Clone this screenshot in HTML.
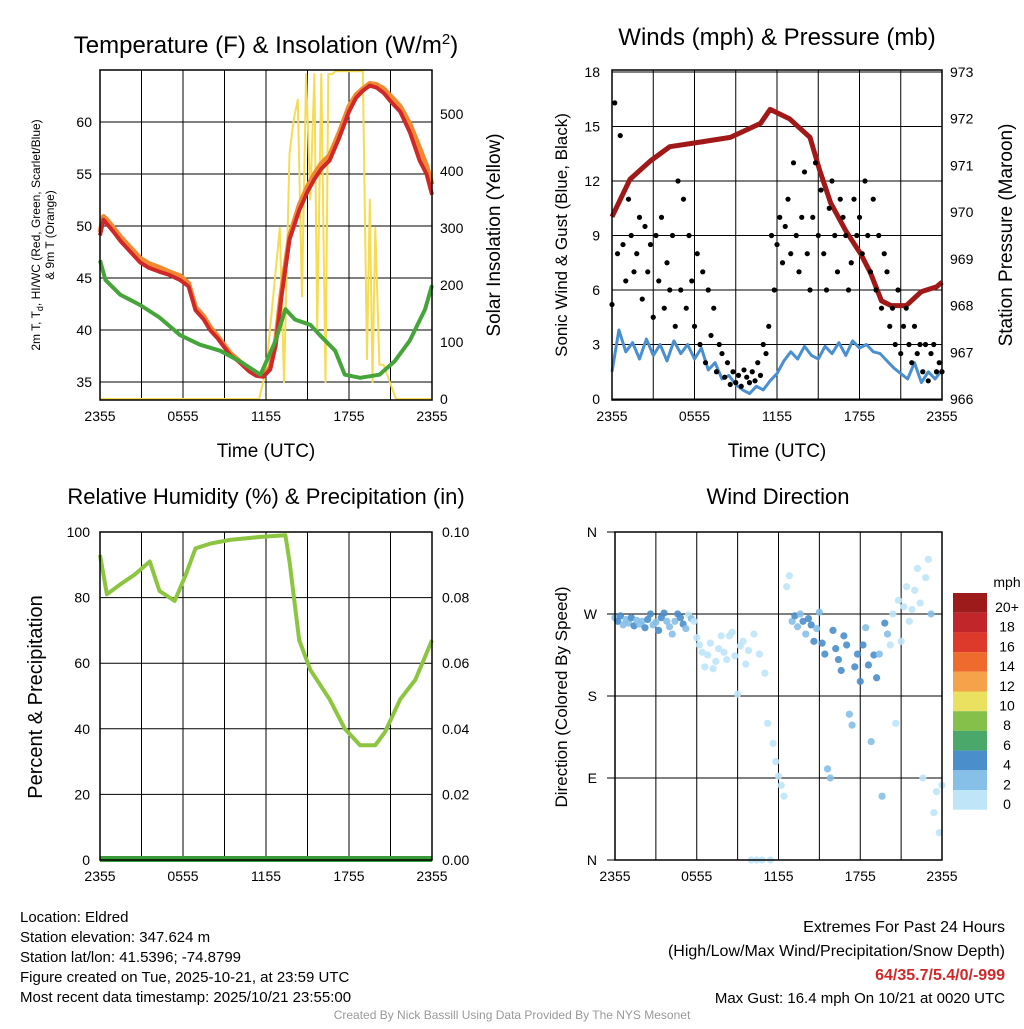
<!DOCTYPE html>
<html><head><meta charset="utf-8"><style>
body{margin:0;background:#fff;font-family:"Liberation Sans",sans-serif}
svg text{font-family:"Liberation Sans",sans-serif}
</style></head><body>
<svg id="s" width="1024" height="1024" xmlns="http://www.w3.org/2000/svg"></svg>
<script>
// ===== data =====
const xTickLabels=["2355","0555","1155","1755","2355"];
const tempHours=[0,0.25,0.5,1.0,1.45,2.0,2.9,3.5,4.3,5.0,5.8,6.4,6.9,7.5,7.95,8.5,9.4,10,10.8,11.3,11.8,12.3,12.7,13.1,13.7,14.4,15,15.5,16,16.6,17.3,18,18.5,19,19.5,20,20.5,21,21.7,22.4,23.1,23.6,24];
const tempRed=[49.1,50.6,50.2,49.4,48.6,47.8,46.5,46,45.6,45.3,44.8,44.2,41.9,41,40,39.2,37.6,37,36,35.6,35.5,36.2,38.5,43,48.7,51.5,53.3,54.5,55.5,56.3,58.5,61,62.3,63,63.5,63.3,62.8,62,61,59,56.3,55,53];
const tempOrange=[49.4,50.9,50.6,49.8,49,48.2,46.9,46.4,46,45.6,45.2,44.5,42.2,41.3,40.3,39.4,37.8,37.1,36.1,35.7,35.6,36.4,39,43.5,49,52,53.8,55,56,56.8,59,61.5,62.6,63.2,63.7,63.6,63.2,62.5,61.5,59.8,57.5,55.8,54];
const dewHours=[0,0.4,1.45,2.9,4.3,5.8,7.2,8.7,10.1,11.6,12.7,13.4,14.1,15.2,15.9,17,17.7,18.8,20.2,21.3,22.4,23.5,24];
const dewGreen=[46.7,44.8,43.4,42.4,41.2,39.5,38.6,38,37,35.7,39,42,41,40.5,39.5,38,35.7,35.4,35.7,37,39,42,44.3];
const solarHours=[0,11.5,12.0,12.6,13.0,13.3,13.7,14.0,14.3,14.6,14.9,15.2,15.5,15.7,16.0,16.3,16.5,16.8,17.0,17.3,17.6,18.0,18.5,19.0,19.3,19.5,19.7,19.9,20.2,20.5,20.8,21.4,24];
const solarW=[0,0,50,200,300,30,430,490,525,180,570,350,570,120,570,30,570,570,575,575,575,575,575,575,70,350,30,300,60,60,40,0,0];
const windHours=[0,0.5,1,1.5,2,2.5,3,3.5,4,4.5,5,5.5,6,6.5,7,7.5,8,8.5,9,9.5,10,10.5,11,11.5,12,12.5,13,13.5,14,14.5,15,15.5,16,16.5,17,17.5,18,18.5,19,19.5,20,20.5,21,21.5,22,22.5,23,23.5,24];
const windSpd=[1.5,3.8,2.6,3.1,2.2,3.3,2.4,3,2.1,3.2,2.5,3,2.2,2.8,1.6,2,1.1,1.3,0.8,0.5,0.3,0.7,0.5,1,1.4,2.1,2.6,2.2,2.9,2.4,2.2,2.9,2.5,3.1,2.4,3.2,2.8,3,2.6,2.5,2.1,1.7,1.4,1.1,2,0.9,1.5,1.1,1.6];
const presHours=[0,1.3,2.8,4.2,6.4,8.6,10.8,11.5,12.9,14.4,15.1,15.9,17,18.1,18.8,19.6,20.3,21.4,22.5,23.6,24];
const presMb=[969.9,970.7,971.1,971.4,971.5,971.6,971.9,972.2,972.0,971.6,970.9,970.2,969.6,969.1,968.7,968.1,968.0,968.0,968.3,968.4,968.5];
const obsStepHours=0.2; // gust and direction observations every 12 minutes
const gustMph=[5.2,16.3,8,14.5,8.5,6.5,11,9,7,8,10,5.5,9.5,7,8.5,4.5,9,6.5,10,5,7.5,6,9,4,12,6,11,5,9,6.5,4,8,3,7,2,6,3.5,5,1.5,3,2.5,1.2,2,0.8,1.5,0.9,1.3,0.7,1.6,1.2,0.9,1.5,1,2,1.3,3,2.5,4,9,6,8.5,10,7.5,9.5,11,8,13,9,7,10,12.5,8,6,10,13,9,11.5,8,6,10.5,12,9,7,11,10,9,6,7.5,11,9,10,8,12,9,7,11,6,9,5,8,7,4,5,3,6,2.5,4,5,3,2,4,2.5,3,1.5,3,1,2.5,3,1.5,2,1.5];
const rhHours=[0,0.5,1.45,2.5,3.6,4.3,5.4,6.2,6.9,8,9.4,11.6,13.4,13.7,14.4,15.2,16.6,17.7,18.8,19.9,20.6,21.7,22.8,23.5,24];
const rhPct=[93,81,84,87,91,82,79,87,95,96.5,97.6,98.5,99,91,67,58,49,40,35,35,39,49,55,62,67];
const dirDeg=[266,262,268,258,264,260,266,257,263,259,262,255,264,270,258,261,252,266,271,262,256,248,262,270,266,259,254,269,265,262,244,236,228,212,225,238,210,218,232,246,228,220,246,250,224,182,235,240,215,230,0,248,0,226,0,205,150,0,128,108,92,82,70,300,312,262,268,256,270,262,248,265,258,240,254,272,238,226,100,90,252,232,220,208,246,236,160,148,212,226,196,236,255,214,130,225,200,226,70,260,248,236,270,150,285,240,278,300,262,275,296,320,282,90,310,330,270,52,75,30,82];
const dirMph=[3,4,5,3,2,3,4,5,3,2,3,4,5,4,3,2,4,5,5,3,3,2,3,4,5,4,2,1,2,1,0,1,0,0,0,1,0,0,0,0,0,0,0,1,0,0,0,0,0,0,0,0,0,0,0,0,0,0,0,0,0,0,0,0,0,2,4,3,2,4,3,4,5,4,3,3,4,5,3,3,4,5,4,5,4,4,3,3,5,4,4,5,3,4,3,4,5,3,2,4,2,1,0,0,1,0,0,0,0,1,0,0,0,0,0,0,2,0,1,0,0];
const cbLabels=["20+","18","16","14","12","10","8","6","4","2","0"];
const cbColors=["#9e1b1b","#c0262a","#de3a2b","#ef6a2d","#f6a24a","#ebe160","#85c04b","#4ba86b","#4a8ecb","#86bfe8","#bee6f8"];

// ===== helpers =====
const S=document.getElementById('s');const NS="http://www.w3.org/2000/svg";
function mk(tag,at,parent){const e=document.createElementNS(NS,tag);for(const k in at)e.setAttribute(k,at[k]);(parent||S).appendChild(e);return e;}
function txt(x,y,s,size,anchor,extra){const e=mk('text',Object.assign({x:x,y:y,'font-size':size,'text-anchor':anchor||'middle',fill:'#000'},extra||{}));e.textContent=s;return e;}
function panel(x0,x1,y0,y1,name){
  const g=mk('g',{});
  for(let i=0;i<=8;i++){const x=x0+(x1-x0)*i/8;mk('line',{x1:x,x2:x,y1:y0,y2:y1,stroke:'#000','stroke-width':1},g);}
  return g;}
function xticks(x0,x1,y){for(let i=0;i<5;i++){const t=txt(x0+(x1-x0)*i/4,y,xTickLabels[i],14);}}
function hline(g,x0,x1,y){mk('line',{x1:x0,x2:x1,y1:y,y2:y,stroke:'#000','stroke-width':1},g);}
function path(xs,ys,fx,fy,st,w,name){let d='';for(let i=0;i<xs.length;i++)d+=(i?'L':'M')+fx(xs[i]).toFixed(1)+','+fy(ys[i]).toFixed(1);const p=mk('path',{d:d,fill:'none',stroke:st,'stroke-width':w,'stroke-linejoin':'round'});return p;}

// ===== panel 1 =====
{const X0=100,X1=432,Y0=70,Y1=400;const fx=t=>X0+t/24*(X1-X0);const fy=v=>382-(v-35)*52/5;const fs=w=>399-w*0.57;
const g=panel(X0,X1,Y0,Y1,'temperature-panel');
[35,40,45,50,55,60].forEach(v=>{hline(g,X0,X1,fy(v));txt(X0-8,fy(v)+5,String(v),14,'end');});
[0,100,200,300,400,500].forEach(v=>{txt(X1+8,fs(v)+5,String(v),14,'start');});
path(solarHours,solarW,fx,fs,'#f5dc52',2,'solar-insolation-line');
path(tempHours,tempOrange,fx,fy,'#f08a30',5,'temp-9m-line');
path(tempHours,tempRed,fx,fy,'#d02828',4,'temp-2m-line');
path(dewHours,dewGreen,fx,fy,'#45a53a',4,'dewpoint-line');
mk('rect',{x:X0,y:Y0,width:X1-X0,height:Y1-Y0,fill:'none',stroke:'#000','stroke-width':1.5});
xticks(X0,X1,421);
const t1=txt(266,53,'',24);t1.innerHTML='Temperature (F) &amp; Insolation (W/m<tspan dy="-9" font-size="15">2</tspan><tspan dy="9">)</tspan>';
txt(266,457,'Time (UTC)',19);
const a=txt(0,0,'2m T, T',12,'middle',{transform:'translate(40,235) rotate(-90)'});a.innerHTML='2m T, T<tspan dy="3" font-size="9">d</tspan><tspan dy="-3">, HI/WC (Red, Green, Scarlet/Blue)</tspan>';
txt(0,0,'& 9m T (Orange)',12,'middle',{transform:'translate(54,235) rotate(-90)'});
txt(0,0,'Solar Insolation (Yellow)',19,'middle',{transform:'translate(500,235) rotate(-90)'});}

// ===== panel 2 =====
{const X0=612,X1=942,Y0=70,Y1=400;const fx=t=>X0+t/24*(X1-X0);const fy=v=>399-v*327/18;const fp=p=>399-(p-966)*327/7;
const g=panel(X0,X1,Y0,Y1,'winds-panel');
[0,3,6,9,12,15,18].forEach(v=>{hline(g,X0,X1,fy(v));txt(X0-12,fy(v)+5,String(v),14,'end');});
[966,967,968,969,970,971,972,973].forEach(v=>{txt(X1+8,fp(v)+5,String(v),14,'start');});
path(windHours,windSpd,fx,fy,'#4a90d0',3,'sonic-wind-line');
path(presHours,presMb,fx,fp,'#a01818',5,'pressure-line');
gustMph.forEach((v,i)=>{const c=mk('circle',{cx:fx(i*obsStepHours),cy:fy(v),r:2.6,fill:'#000'});});
mk('rect',{x:X0,y:Y0,width:X1-X0,height:Y1-Y0,fill:'none',stroke:'#000','stroke-width':1.5});
xticks(X0,X1,421);
txt(777,45,'Winds (mph) & Pressure (mb)',24);txt(777,457,'Time (UTC)',19);
txt(0,0,'Sonic Wind & Gust (Blue, Black)',17,'middle',{transform:'translate(567,235) rotate(-90)'});
txt(0,0,'Station Pressure (Maroon)',19,'middle',{transform:'translate(1012,235) rotate(-90)'});}

// ===== panel 3 =====
{const X0=100,X1=432,Y0=532,Y1=860;const fx=t=>X0+t/24*(X1-X0);const fy=v=>860-v*3.28;
const g=panel(X0,X1,Y0,Y1,'humidity-panel');
[0,20,40,60,80,100].forEach((v,i)=>{hline(g,X0,X1,fy(v));txt(X0-10,fy(v)+5,String(v),14,'end');txt(X1+10,fy(v)+5,(i*0.02).toFixed(2),14,'start');});
path(rhHours,rhPct,fx,fy,'#8cc540',4,'rh-line');
mk('line',{x1:X0,x2:X1,y1:859,y2:859,stroke:'#3a9a3a','stroke-width':6});
mk('rect',{x:X0,y:Y0,width:X1-X0,height:Y1-Y0,fill:'none',stroke:'#000','stroke-width':1.5});
xticks(X0,X1,881);
txt(266,504,'Relative Humidity (%) & Precipitation (in)',22);
txt(0,0,'Percent & Precipitation',20,'middle',{transform:'translate(42,697) rotate(-90)'});}

// ===== panel 4 =====
{const X0=615,X1=942,Y0=532,Y1=860;const fx=t=>X0+t/24*(X1-X0);const fy=d=>860-d*328/360;
const g=panel(X0,X1,Y0,Y1,'wind-direction-panel');
["N","E","S","W","N"].forEach((l,i)=>{hline(g,X0-8,X1,fy(i*90));txt(X0-18,fy(i*90)+5,l,14,'end');});
dirDeg.forEach((d,i)=>{const cls=Math.min(10,Math.floor(dirMph[i]/2));const c=mk('circle',{cx:fx(i*obsStepHours),cy:fy(d),r:3.6,fill:cbColors[10-cls],'fill-opacity':0.9});});
mk('rect',{x:X0,y:Y0,width:X1-X0,height:Y1-Y0,fill:'none',stroke:'#000','stroke-width':1.5});
xticks(X0,X1,881);
txt(778,504,'Wind Direction',22);
txt(0,0,'Direction (Colored By Speed)',17,'middle',{transform:'translate(567,697) rotate(-90)'});
txt(1007,587,'mph',14);
const lg=mk('g',{});
cbColors.forEach((c,i)=>{mk('rect',{x:953,y:593+i*19.7,width:34,height:19.7,fill:c},lg);});
cbLabels.forEach((l,i)=>{txt(1007,612+i*19.7,l,14);});}

// ===== footer =====
["Location: Eldred","Station elevation: 347.624 m","Station lat/lon: 41.5396; -74.8799","Figure created on Tue, 2025-10-21, at 23:59 UTC","Most recent data timestamp: 2025/10/21 23:55:00"].forEach((s,i)=>txt(20,922+i*20,s,15,'start'));
txt(1005,932,'Extremes For Past 24 Hours',16,'end');
txt(1005,956,'(High/Low/Max Wind/Precipitation/Snow Depth)',16,'end');
txt(1005,980,'64/35.7/5.4/0/-999',16,'end',{fill:'#d02828','font-weight':'bold'});
txt(1005,1003,'Max Gust: 16.4 mph On 10/21 at 0020 UTC',15,'end');
txt(512,1019,'Created By Nick Bassill Using Data Provided By The NYS Mesonet',12,'middle',{fill:'#999'});
</script>
</body></html>
